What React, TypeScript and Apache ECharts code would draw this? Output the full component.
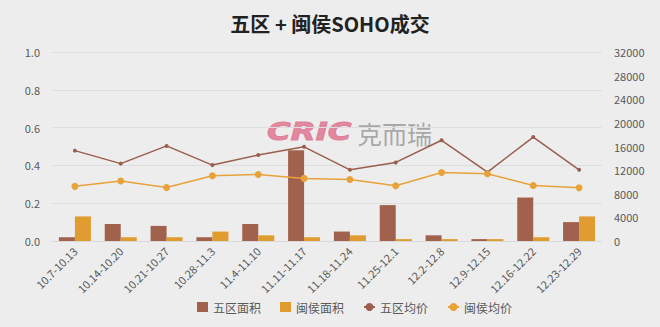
import React, { useEffect, useRef } from "react";
import * as echarts from "echarts";

const categories = [
  "10.7-10.13", "10.14-10.20", "10.21-10.27", "10.28-11.3", "11.4-11.10", "11.11-11.17",
  "11.18-11.24", "11.25-12.1", "12.2-12.8", "12.9-12.15", "12.16-12.22", "12.23-12.29",
];
const wuquArea = [0.02, 0.09, 0.08, 0.02, 0.09, 0.48, 0.05, 0.19, 0.03, 0.01, 0.23, 0.1];
const minhouArea = [0.13, 0.02, 0.02, 0.05, 0.03, 0.02, 0.03, 0.01, 0.01, 0.01, 0.02, 0.13];
const wuquPrice = [15300, 13100, 16100, 12850, 14550, 15950, 12050, 13300, 17050, 11650, 17600, 12050];
const minhouPrice = [9250, 10150, 9050, 11050, 11250, 10600, 10400, 9350, 11600, 11400, 9400, 9000];
const seriesNames = ["五区面积", "闽侯面积", "五区均价", "闽侯均价"];
const titleText = "五区 + 闽侯SOHO成交";

const FONT = "'Noto Sans CJK SC', 'Noto Sans', sans-serif";

export default function App() {
  const ref = useRef<HTMLDivElement>(null);
  useEffect(() => {
    document.body.style.margin = "0";
    const chart = echarts.init(ref.current!, null, { renderer: "svg" });
    chart.setOption({
      animation: false,
      backgroundColor: "#ededed",
      textStyle: { fontFamily: FONT },
      title: {
        text: titleText,
        left: "center",
        top: 8,
        textStyle: { fontSize: 20, fontWeight: "bold", color: "#222", fontFamily: FONT },
      },
      graphic: [
        {
          type: "text",
          x: 267,
          y: 120,
          scaleX: 1.35,
          z: 0,
          style: {
            text: "CRIC",
            font: "italic 900 24px 'DejaVu Sans', sans-serif",
            fill: "#e07b95",
            stroke: "#e07b95",
            lineWidth: 1,
            opacity: 0.9,
          },
        },
        {
          type: "text",
          x: 357,
          y: 120,
          z: 0,
          style: {
            text: "克而瑞",
            font: "25px 'Noto Sans CJK SC', sans-serif",
            fill: "#9c9c9c",
            opacity: 0.85,
          },
        },
      ],
      legend: {
        left: 192,
        top: 296,
        itemWidth: 11,
        itemHeight: 10,
        itemGap: 19,
        textStyle: { fontSize: 12, color: "#595959", fontFamily: FONT },
        data: [
          { name: seriesNames[0], icon: "rect" },
          { name: seriesNames[1], icon: "rect" },
          { name: seriesNames[2] },
          { name: seriesNames[3] },
        ],
      },
      grid: { left: 52, right: 58, top: 52, bottom: 86 },
      xAxis: {
        type: "category",
        data: categories,
        axisLine: { show: true, lineStyle: { color: "#d9d9d9" } },
        axisTick: { show: false },
        axisLabel: { interval: 0, rotate: 45, fontSize: 11, color: "#595959", margin: 8 },
      },
      yAxis: [
        {
          type: "value",
          min: 0,
          max: 1,
          interval: 0.2,
          axisLabel: {
            fontSize: 11,
            color: "#595959",
            margin: 12,
            formatter: (v: number) => v.toFixed(1),
          },
          axisLine: { show: false },
          axisTick: { show: false },
          splitLine: { lineStyle: { color: "#dedede" } },
        },
        {
          type: "value",
          min: 0,
          max: 32000,
          interval: 4000,
          position: "right",
          axisLabel: {
            fontSize: 11,
            color: "#595959",
            margin: 12,
            formatter: (v: number) => String(v),
          },
          axisLine: { show: false },
          axisTick: { show: false },
          splitLine: { show: false },
        },
      ],
      series: [
        {
          name: seriesNames[0],
          type: "bar",
          data: wuquArea,
          barWidth: 16,
          barGap: "0%",
          itemStyle: { color: "#a0624d" },
        },
        {
          name: seriesNames[1],
          type: "bar",
          data: minhouArea,
          barWidth: 16,
          barGap: "0%",
          itemStyle: { color: "#e19c30" },
        },
        {
          name: seriesNames[2],
          type: "line",
          yAxisIndex: 1,
          data: wuquPrice,
          symbol: "circle",
          symbolSize: 4,
          lineStyle: { color: "#9b5e4c", width: 1.5 },
          itemStyle: { color: "#9b5e4c" },
        },
        {
          name: seriesNames[3],
          type: "line",
          yAxisIndex: 1,
          data: minhouPrice,
          symbol: "circle",
          symbolSize: 7,
          lineStyle: { color: "#e8a23a", width: 1.5 },
          itemStyle: { color: "#e8a23a" },
        },
      ],
    });
    return () => chart.dispose();
  }, []);
  return <div ref={ref} style={{ width: 660, height: 327 }} />;
}
